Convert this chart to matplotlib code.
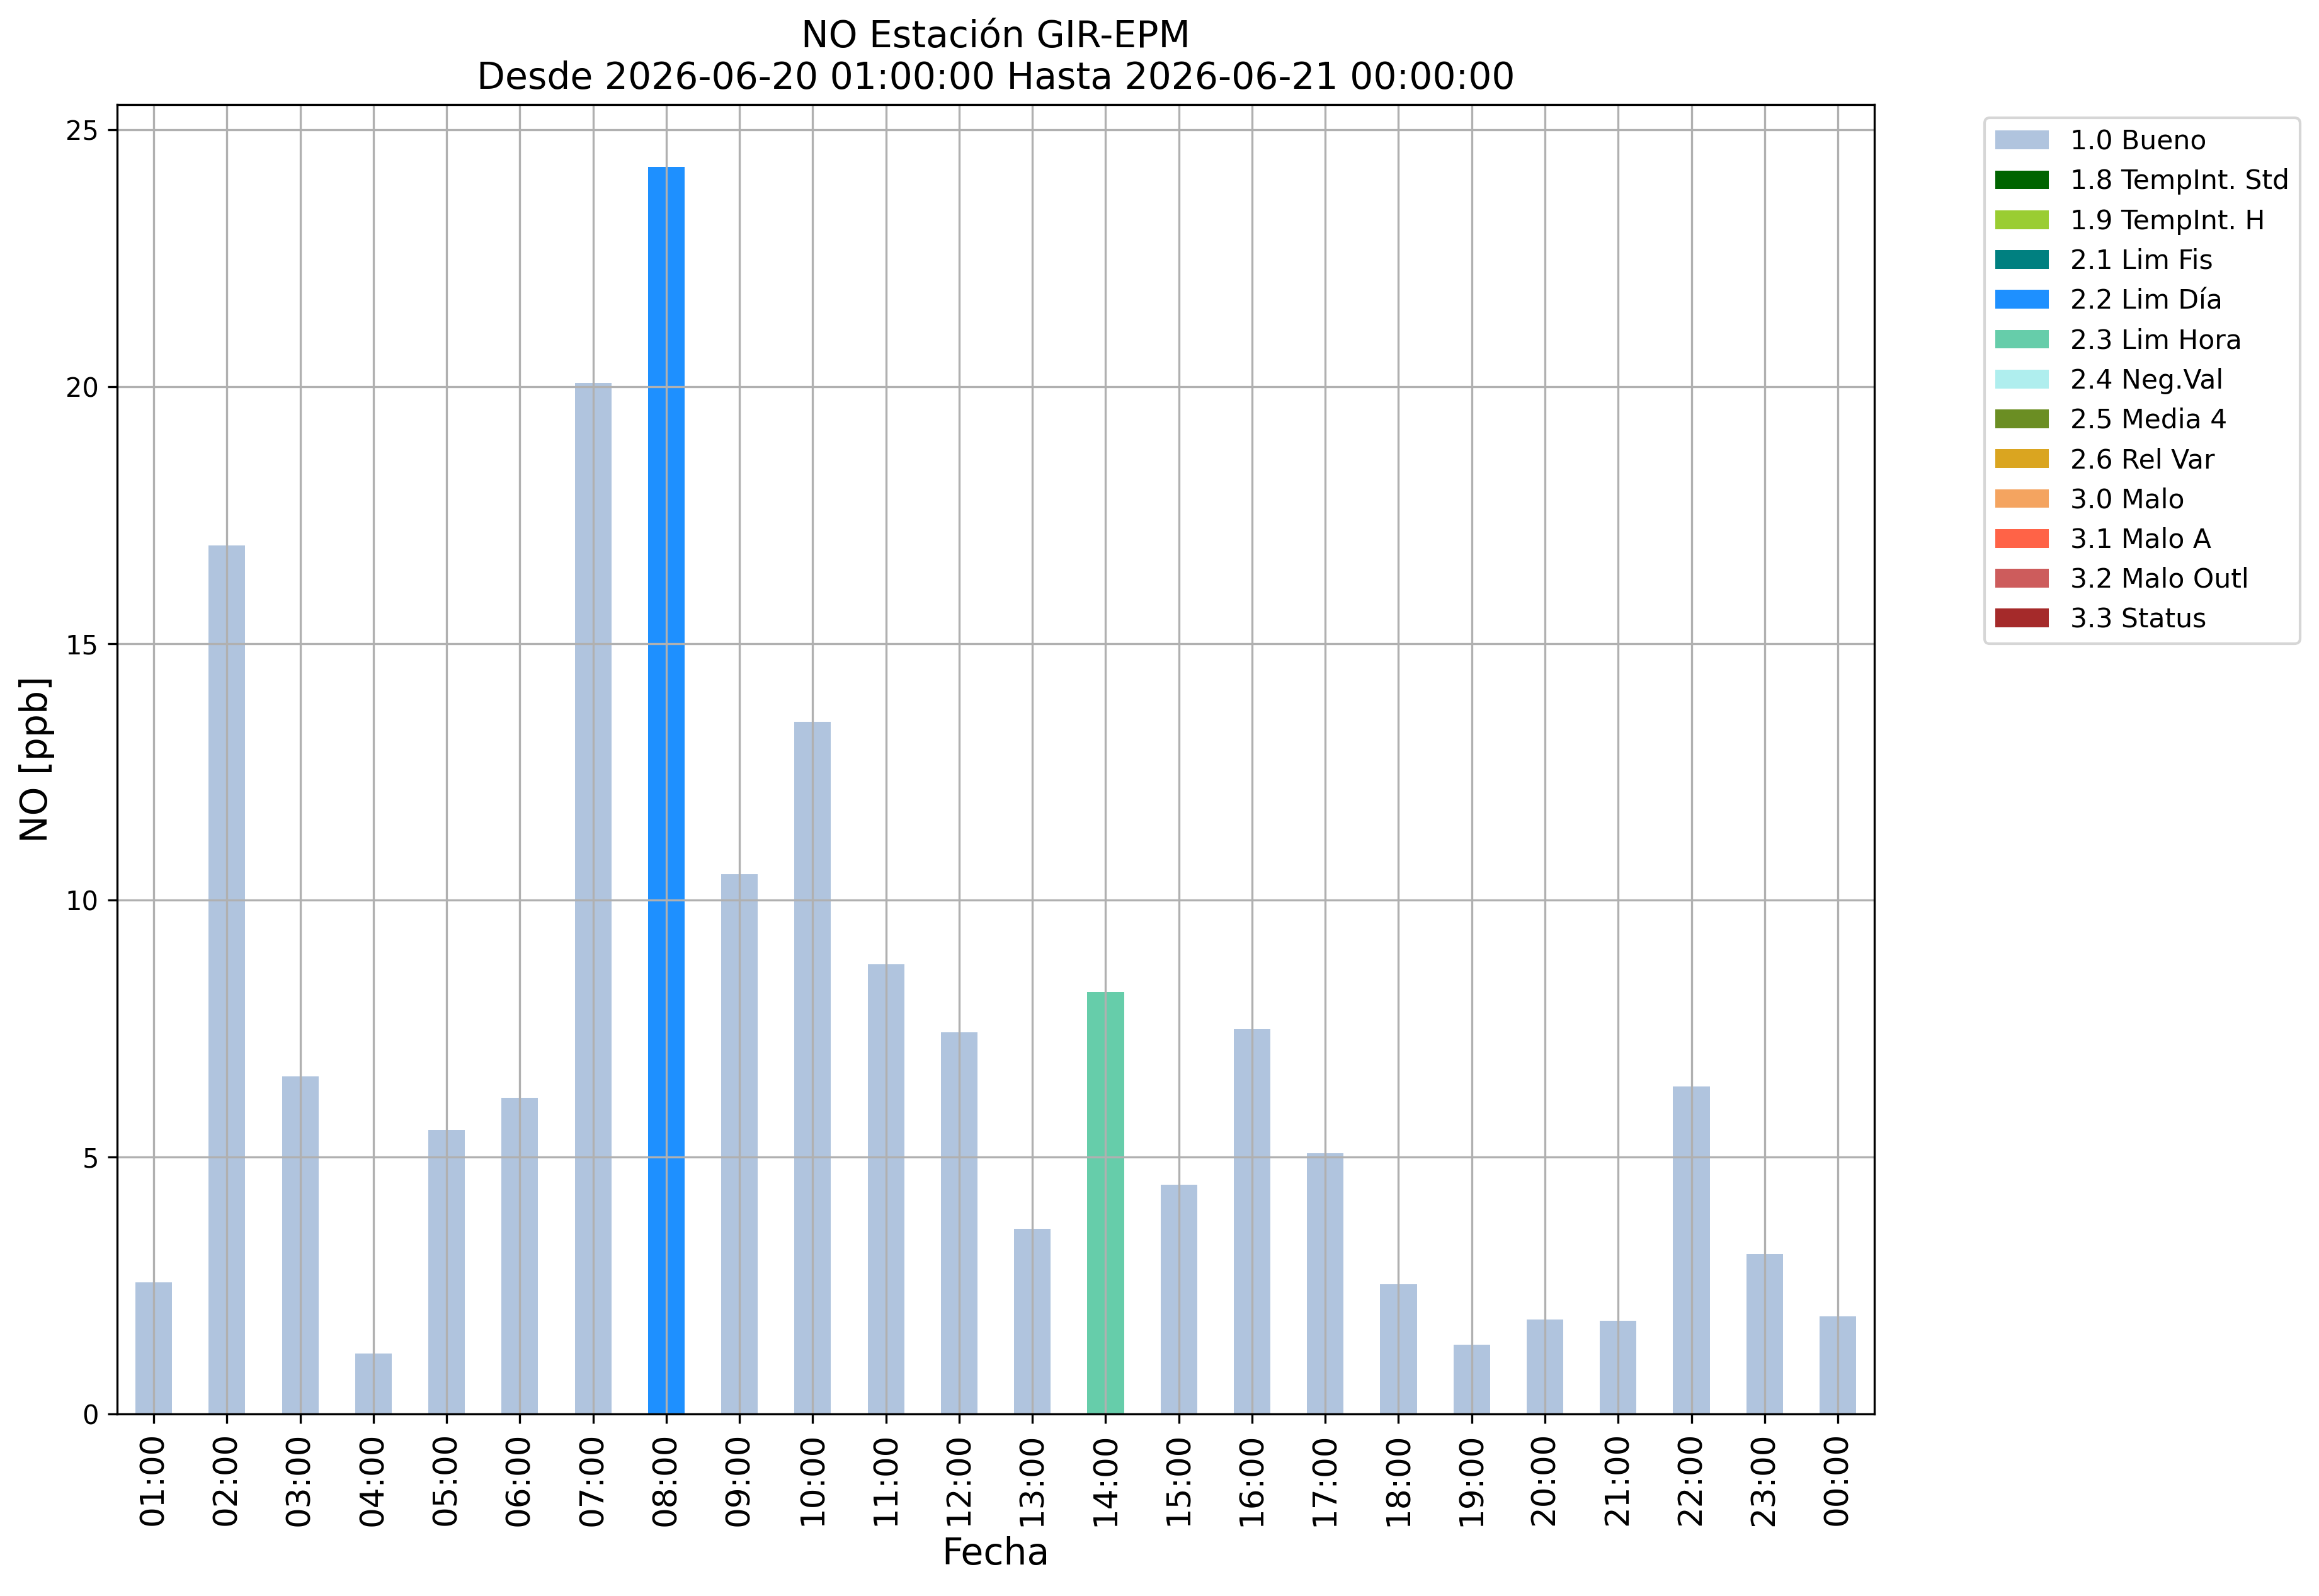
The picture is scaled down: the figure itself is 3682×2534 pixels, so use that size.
import numpy as np
import matplotlib
matplotlib.use("Agg")
import matplotlib.pyplot as plt

hours = ["01:00", "02:00", "03:00", "04:00", "05:00", "06:00", "07:00", "08:00",
         "09:00", "10:00", "11:00", "12:00", "13:00", "14:00", "15:00", "16:00",
         "17:00", "18:00", "19:00", "20:00", "21:00", "22:00", "23:00", "00:00"]
values = [2.56, 16.91, 6.57, 1.18, 5.53, 6.16, 20.07, 24.28,
          10.51, 13.48, 8.76, 7.43, 3.60, 8.21, 4.46, 7.49,
          5.07, 2.53, 1.35, 1.84, 1.81, 6.37, 3.11, 1.90]
flags = ["1.0", "1.0", "1.0", "1.0", "1.0", "1.0", "1.0", "2.2",
         "1.0", "1.0", "1.0", "1.0", "1.0", "2.3", "1.0", "1.0",
         "1.0", "1.0", "1.0", "1.0", "1.0", "1.0", "1.0", "1.0"]

flag_codes = ["1.0", "1.8", "1.9", "2.1", "2.2", "2.3", "2.4", "2.5", "2.6",
              "3.0", "3.1", "3.2", "3.3"]
flag_names = ["1.0 Bueno", "1.8 TempInt. Std", "1.9 TempInt. H", "2.1 Lim Fis",
              "2.2 Lim Día", "2.3 Lim Hora", "2.4 Neg.Val", "2.5 Media 4",
              "2.6 Rel Var", "3.0 Malo", "3.1 Malo A", "3.2 Malo Outl", "3.3 Status"]
flag_colors = ["lightsteelblue", "darkgreen", "yellowgreen", "teal", "dodgerblue",
               "mediumaquamarine", "paleturquoise", "olivedrab", "goldenrod",
               "sandybrown", "tomato", "indianred", "brown"]

fig = plt.figure(figsize=(3682 / 300, 2534 / 300), dpi=300)
ax = fig.add_axes([0.0505, 0.1141, 0.7578, 0.8204])

x = np.arange(len(hours))
vals = np.array(values)
fl = np.array(flags)
bottom = np.zeros(len(hours))
for code, name, col in zip(flag_codes, flag_names, flag_colors):
    h = np.where(fl == code, vals, 0.0)
    ax.bar(x, h, width=0.5, bottom=bottom, color=col, label=name)
    bottom += h

ax.set_xlim(-0.5, len(hours) - 0.5)
ax.set_ylim(0, max(values) * 1.05)
ax.set_xticks(x)
ax.set_xticklabels(hours, rotation=90, fontsize=12.4)
ax.tick_params(axis="y", labelsize=10)
ax.grid(True)
ax.set_xlabel("Fecha", fontsize=14)
ax.set_ylabel("NO [ppb]", fontsize=14)
ax.set_title("NO Estación GIR-EPM\nDesde 2026-06-20 01:00:00 Hasta 2026-06-21 00:00:00",
             fontsize=14)
ax.legend(loc="upper left", bbox_to_anchor=(1.055, 1), fontsize=10.2)

fig.savefig("out.png", dpi=300)
